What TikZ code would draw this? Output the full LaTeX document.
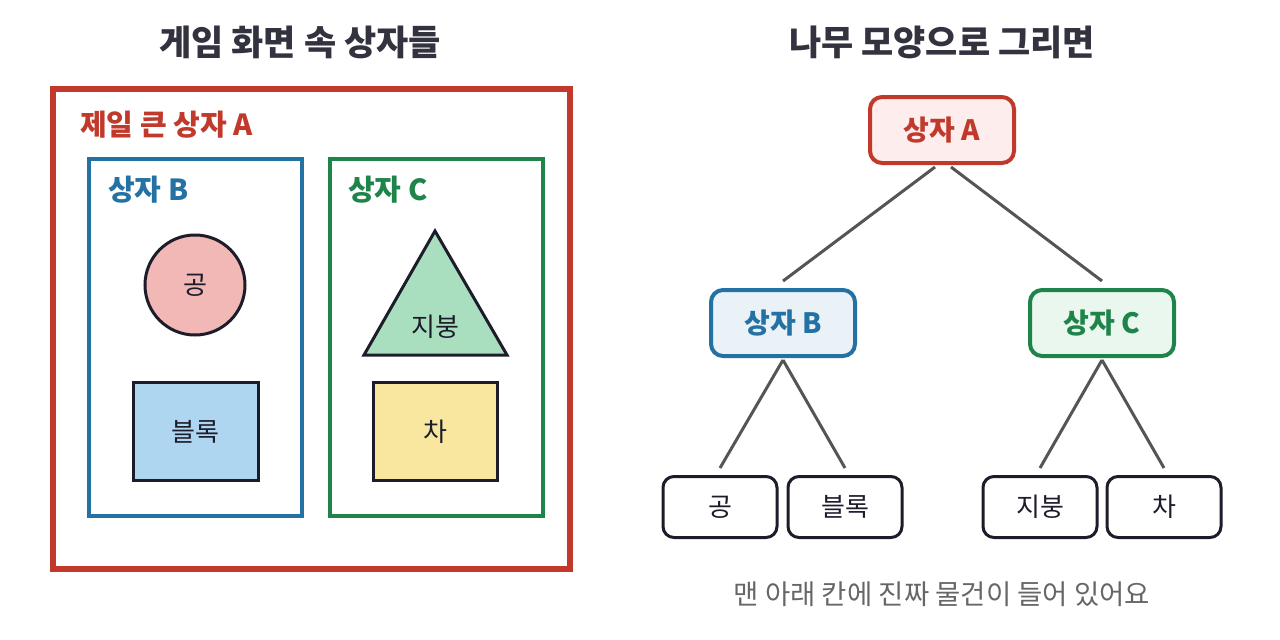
\documentclass[tikz,border=0pt]{standalone}
\usepackage{fontspec}
\setmainfont{Noto Sans CJK KR}
\definecolor{redA}{HTML}{C0392B}
\definecolor{blueB}{HTML}{2471A3}
\definecolor{greenC}{HTML}{1E8449}
\definecolor{ink}{HTML}{1C1C2B}
\definecolor{edgegray}{HTML}{555555}
\definecolor{fillA}{HTML}{FDEDEC}
\definecolor{fillB}{HTML}{EAF2F8}
\definecolor{fillC}{HTML}{E9F7EF}
\definecolor{pinkball}{HTML}{F2B8B5}
\definecolor{blueblock}{HTML}{AED6F1}
\definecolor{greenroof}{HTML}{A9DFBF}
\definecolor{yellowcar}{HTML}{F9E79F}
\tikzset{
  title/.style={font=\fontsize{35}{40}\selectfont\bfseries, text=ink!90},
  boxlabel/.style={font=\fontsize{29}{32}\selectfont\bfseries, anchor=west, inner sep=0pt},
  shapelabel/.style={font=\fontsize{26}{30}\selectfont, text=ink},
  treenode/.style={draw, rounded corners=12pt, line width=4pt, minimum width=144pt, minimum height=66pt, font=\fontsize{28}{32}\selectfont\bfseries},
  leaf/.style={draw=ink, fill=white, rounded corners=11pt, line width=3pt, minimum width=114pt, minimum height=61pt, font=\fontsize{26}{30}\selectfont, text=ink},
  edge/.style={draw=edgegray, line width=3pt},
  thing/.style={draw=ink, line width=3pt},
}
\begin{document}
\begin{tikzpicture}[x=1pt,y=-1pt]
\useasboundingbox (0,0) rectangle (1280,640);
% titles
\node[title] (t1) at (300,42) {게임 화면 속 상자들};
\node[title] (t2) at (942,42) {나무 모양으로 그리면};
% left picture
\draw[draw=redA, line width=6pt] (53,89) rectangle (570,569);
\node[boxlabel, text=redA] (la) at (80,125) {제일 큰 상자 A};
\draw[draw=blueB, line width=4pt] (89,159) rectangle (302,516);
\node[boxlabel, text=blueB] (lb) at (108,190) {상자 B};
\draw[draw=greenC, line width=4pt] (330,159) rectangle (543,516);
\node[boxlabel, text=greenC] (lc) at (348,190) {상자 C};
\draw[thing, fill=pinkball] (195,285) circle (50);
\node[shapelabel] (ball) at (195,285) {공};
\draw[thing, fill=blueblock] (133,382) rectangle (258,480);
\node[shapelabel] (block) at (195,432) {블록};
\draw[thing, fill=greenroof, line join=miter] (435,231) -- (507,355) -- (364,355) -- cycle;
\node[shapelabel] (roof) at (435,327) {지붕};
\draw[thing, fill=yellowcar] (373,382) rectangle (497,480);
\node[shapelabel] (car) at (435,432) {차};
% tree
\node[treenode, draw=redA, fill=fillA, text=redA] (A) at (942,130) {상자 A};
\node[treenode, draw=blueB, fill=fillB, text=blueB] (B) at (783,323) {상자 B};
\node[treenode, draw=greenC, fill=fillC, text=greenC] (C) at (1102,323) {상자 C};
\node[leaf] (L1) at (720,507) {공};
\node[leaf] (L2) at (845,507) {블록};
\node[leaf] (L3) at (1040,507) {지붕};
\node[leaf] (L4) at (1164,507) {차};
\draw[edge] ([xshift=-7pt,yshift=-2pt]A.south) -- ([yshift=7pt]B.north);
\draw[edge] ([xshift=9pt,yshift=-2pt]A.south) -- ([yshift=7pt]C.north);
\draw[edge] ([yshift=-2pt]B.south) -- ([yshift=7pt]L1.north);
\draw[edge] ([yshift=-2pt]B.south) -- ([yshift=7pt]L2.north);
\draw[edge] ([yshift=-2pt]C.south) -- ([yshift=7pt]L3.north);
\draw[edge] ([yshift=-2pt]C.south) -- ([yshift=7pt]L4.north);
\node[font=\fontsize{27.5}{32}\selectfont, text=black!60] (note) at (942,594) {맨 아래 칸에 진짜 물건이 들어 있어요};
\end{tikzpicture}
\end{document}
